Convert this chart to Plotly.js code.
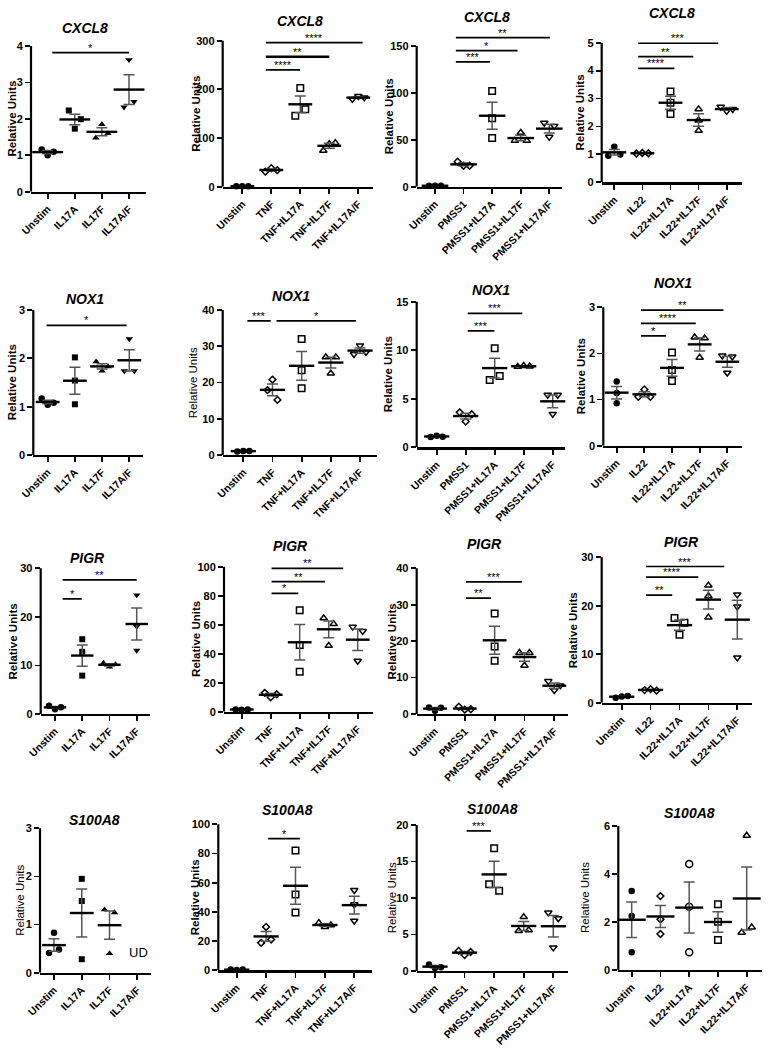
<!DOCTYPE html>
<html><head><meta charset="utf-8">
<script src="https://cdn.plot.ly/plotly-3.0.1.min.js"></script>
<style>html,body{margin:0;padding:0;background:#fff}#chart{width:772px;height:1050px}</style>
</head><body><div id="chart"></div>
<script>
// ---------- categories (tick labels) ----------
const catsIL17  = ['Unstim','IL17A','IL17F','IL17A/F'];
const catsTNF   = ['Unstim','TNF','TNF+IL17A','TNF+IL17F','TNF+IL17A/F'];
const catsPMSS1 = ['Unstim','PMSS1','PMSS1+IL17A','PMSS1+IL17F','PMSS1+IL17A/F'];
const catsIL22  = ['Unstim','IL22','IL22+IL17A','IL22+IL17F','IL22+IL17A/F'];

// ---------- replicate values (relative units), 3 per condition ----------
const cxcl8_IL17   = [[1.16,1.00,1.10],[2.23,1.73,1.99],[1.48,1.85,1.60],[2.32,3.62,2.47]];
const cxcl8_TNF    = [[0.9,1.0,0.9],[31,38,34],[146,203,159],[74,88,90],[180,186,183]];
const cxcl8_PMSS1  = [[1.0,1.1,0.9],[26.7,22.4,22.4],[102,73,52],[49,57.6,49],[68,53,64.7]];
const cxcl8_IL22   = [[0.95,1.27,1.0],[1.03,1.05,1.04],[3.25,2.85,2.45],[2.62,2.22,1.85],[2.70,2.55,2.62]];
const nox1_IL17    = [[1.17,1.04,1.08],[2.02,1.54,1.05],[1.93,1.74,1.83],[1.74,2.40,1.74]];
const nox1_TNF     = [[1.0,1.1,1.1],[20.8,17.9,15.2],[32,23.4,18.4],[27,22.5,27],[27.8,30.2,28.4]];
const nox1_PMSS1   = [[1.05,1.2,1.1],[3.6,2.65,3.4],[6.93,10.2,7.35],[8.3,8.4,8.35],[5.39,3.43,5.39]];
const nox1_IL22    = [[1.39,0.92,1.14],[1.06,1.22,1.06],[2.02,1.64,1.40],[2.35,1.91,2.33],[1.95,1.58,1.93]];
const pigr_IL17    = [[1.7,1.0,1.4],[15.4,12.8,7.9],[10.5,9.7,10.2],[24.5,18.0,13.1]];
const pigr_TNF     = [[1.6,1.3,1.6],[13,10,12],[70,46,27.6],[64.5,45.5,60.5],[58.5,35,55.5]];
const pigr_PMSS1   = [[1.8,0.9,1.7],[2.0,1.2,1.3],[27.6,18.5,14.6],[16.8,13.3,16.8],[9.0,6.5,7.8]];
const pigr_IL22    = [[1.0,1.3,1.4],[2.6,2.8,2.5],[17.5,14.0,16.5],[24.2,22.0,17.6],[22.3,19.8,9.3]];
const s100a8_IL17  = [[0.41,0.83,0.48],[1.95,1.49,0.28],[1.31,0.40,1.25],[]];   // IL17A/F undetected
const s100a8_TNF   = [[0.6,0.2,0.5],[18.8,29.7,21.1],[82.1,52,39.6],[32.5,29.7,30.9],[54.9,45.1,33.9]];
const s100a8_PMSS1 = [[0.9,0.4,0.5],[2.75,2.2,2.6],[11.9,16.8,11.0],[5.5,7.4,5.6],[8.0,3.2,7.2]];
const s100a8_IL22  = [[3.29,2.25,0.74],[3.08,2.11,1.5],[4.42,2.64,0.74],[2.74,2.01,1.25],[1.56,5.6,1.78]];

// ---------- significance labels ----------
const sig_cxcl8_IL17 = ['*'];
const sig_cxcl8_TNF = ['****','**','****'];
const sig_cxcl8_PMSS1 = ['***','*','**'];
const sig_cxcl8_IL22 = ['****','**','***'];
const sig_nox1_IL17 = ['*'];
const sig_nox1_TNF = ['***','*'];
const sig_nox1_PMSS1 = ['***','***'];
const sig_nox1_IL22 = ['*','****','**'];
const sig_pigr_IL17 = ['*','**'];
const sig_pigr_TNF = ['*','**','**'];
const sig_pigr_PMSS1 = ['**','***'];
const sig_pigr_IL22 = ['**','****','***'];
const sig_s100a8_TNF = ['*'];
const sig_s100a8_PMSS1 = ['***'];

// ---------- marker symbols ----------
const symIL17 = ['circle','square','triangle-up','triangle-down'];
const symStim = ['circle','diamond-open','square-open','triangle-up-open','triangle-down-open'];
const symS100IL22 = ['circle','diamond-open','circle-open','square-open','triangle-up-open'];

// ---------- layout of panels (pixel geometry: left,right,firstTick,lastTick,y0,yTopTick,topVal,dtick) ----------
const panels = [
 {cats:catsIL17, vals:cxcl8_IL17, sym:symIL17, title:'CXCL8', sig:sig_cxcl8_IL17, g:[31,146,47.7,129,191.7,46,4,1], tx:85, ty:28, yx:11.7, yb:true, mw:22, br:[[0.17,3.0,3.82]]},
 {cats:catsTNF, vals:cxcl8_TNF, sym:symStim, title:'CXCL8', sig:sig_cxcl8_TNF, g:[222.7,373,242.3,358.3,186.7,40.7,300,100], tx:300, ty:20.7, yx:196, yb:true, mw:17, br:[[0.81,1.99,240],[0.81,3.0,267,2.6],[0.81,4.15,296]]},
 {cats:catsPMSS1, vals:cxcl8_PMSS1, sym:symStim, title:'CXCL8', sig:sig_cxcl8_PMSS1, g:[416.7,561.7,435,549.3,186.7,46,150,50], tx:486.7, ty:16.7, yx:389, yb:true, mw:19, br:[[0.73,1.92,133],[0.73,2.89,145],[0.73,4.02,159]]},
 {cats:catsIL22, vals:cxcl8_IL22, sym:symStim, title:'CXCL8', sig:sig_cxcl8_IL22, g:[601.7,742.3,614.3,726.7,182.3,42.7,5,1], tx:671.7, ty:13.3, yx:580, yb:true, mw:17, br:[[0.85,2.14,4.08],[0.85,2.81,4.5],[0.85,3.70,4.98]]},
 {cats:catsIL17, vals:nox1_IL17, sym:symIL17, title:'NOX1', sig:sig_nox1_IL17, g:[33.3,143.3,47.7,129.3,455,310,3,1], tx:85, ty:299.3, yx:11.7, yb:true, mw:17, br:[[-0.04,2.9,2.68]]},
 {cats:catsTNF, vals:nox1_TNF, sym:symStim, title:'NOX1', sig:sig_nox1_TNF, g:[222.7,376.7,243.3,360,455,310,40,10], tx:290.7, ty:296, yx:192.7, yb:false, mw:18, br:[[0.14,0.94,37],[1.14,3.86,37]]},
 {cats:catsPMSS1, vals:nox1_PMSS1, sym:symStim, title:'NOX1', sig:sig_nox1_PMSS1, g:[416.7,565,436.7,552.7,447.3,301.7,15,5], tx:491, ty:290, yx:387.7, yb:true, mw:18, br:[[1.07,1.99,12.0],[1.07,2.95,13.8]]},
 {cats:catsIL22, vals:nox1_IL22, sym:symStim, title:'NOX1', sig:sig_nox1_IL22, g:[603.3,742.3,616.7,727.3,445.7,307.3,3,1], tx:672.7, ty:283.3, yx:581.7, yb:true, mw:17, br:[[0.88,1.78,2.38],[0.88,2.86,2.65],[0.88,3.86,2.94]]},
 {cats:catsIL17, vals:pigr_IL17, sym:symIL17, title:'PIGR', sig:sig_pigr_IL17, g:[40.7,150,55,136.7,714,568.3,30,10], tx:87.3, ty:558.3, yx:13.3, yb:true, mw:16, br:[[0.28,0.98,23.7],[0.28,3.0,27.6]]},
 {cats:catsTNF, vals:pigr_TNF, sym:symStim, title:'PIGR', sig:sig_pigr_TNF, g:[224,373,241.7,357.7,711.7,566.7,100,20], tx:290, ty:545.7, yx:196.7, yb:true, mw:17, br:[[1.03,1.95,81.6],[1.03,2.87,89.7],[1.03,3.5,98.9]]},
 {cats:catsPMSS1, vals:pigr_PMSS1, sym:symStim, title:'PIGR', sig:sig_pigr_PMSS1, g:[416.7,568,435,554.3,714,568.3,40,10], tx:484.3, ty:544, yx:392.3, yb:true, mw:17, br:[[1.04,1.88,31.8],[1.04,2.91,36.3]]},
 {cats:catsIL22, vals:pigr_IL22, sym:symStim, title:'PIGR', sig:sig_pigr_IL22, g:[601.7,751.7,621.7,737.3,702.7,557.3,30,10], tx:681.7, ty:541.7, yx:573.3, yb:true, mw:18, br:[[0.84,1.75,22.2],[0.84,2.65,25.9],[0.84,3.55,28.1]]},
 {cats:catsIL17, vals:s100a8_IL17, sym:symIL17, title:'S100A8', sig:[], g:[40,150.7,54,137.3,972.7,828.3,3,1], tx:94, ty:820, yx:19.3, yb:false, mw:17, br:[], ud:3},
 {cats:catsTNF, vals:s100a8_TNF, sym:symStim, title:'S100A8', sig:sig_s100a8_TNF, g:[218.3,371.7,236.7,354.3,970.3,824.3,100,20], tx:287.3, ty:810, yx:195, yb:true, mw:18, br:[[1.07,2.15,90.2]]},
 {cats:catsPMSS1, vals:s100a8_PMSS1, sym:symStim, title:'S100A8', sig:sig_s100a8_PMSS1, g:[416.7,568,435,553.3,971,825,20,5], tx:492.3, ty:809.3, yx:392.3, yb:false, mw:18, br:[[1.07,1.89,19.2]]},
 {cats:catsIL22, vals:s100a8_IL22, sym:symS100IL22, title:'S100A8', sig:[], g:[618.3,761.7,631.7,746.7,970,826,6,2], tx:689, ty:813.3, yx:585, yb:false, mw:20, br:[]}
];

const W = 772, H = 1050;
const FONT = 'Liberation Sans, Arial, Helvetica, sans-serif';

function pxOffsets(vals, ppu){
  const off = vals.map(()=>0);
  if(!vals.length) return off;
  const px = vals.map(v=>v*ppu);
  const idx = vals.map((v,i)=>i).sort((a,b)=>px[a]-px[b]);
  const clusters = []; let cur = [idx[0]];
  for(let j=1;j<idx.length;j++){
    if(px[idx[j]]-px[idx[j-1]] < 10) cur.push(idx[j]); else { clusters.push(cur); cur=[idx[j]]; }
  }
  clusters.push(cur);
  clusters.forEach(c=>{
    c.sort((a,b)=>a-b);
    const k=c.length, step = k===2 ? 10 : 6;
    c.forEach((i,m)=>{ off[i] = (m-(k-1)/2)*step; });
  });
  return off;
}
const mean = a => a.reduce((s,v)=>s+v,0)/a.length;
const sem = a => { const m=mean(a); return Math.sqrt(a.reduce((s,v)=>s+(v-m)*(v-m),0)/(a.length-1))/Math.sqrt(a.length); };

const traces = [], shapes = [], annotations = [];
const layout = {width:W, height:H, margin:{l:0,r:0,t:0,b:0}, paper_bgcolor:'#fff', plot_bgcolor:'rgba(0,0,0,0)', showlegend:false, font:{family:FONT, color:'#000'}};

panels.forEach((p,k)=>{
  const id = k===0 ? '' : String(k+1);
  const xa = 'x'+id, ya = 'y'+id;
  const [l,r,t0,tN,y0,yTop,top,dt] = p.g;
  const n = p.cats.length;
  const s = (tN-t0)/(n-1);
  const ppu = (y0-yTop)/top;
  const brMax = p.br.length ? Math.max(...p.br.map(b=>b[2])) : 0;
  const rmax = Math.max(top, brMax)*1.04;
  const tv = []; for(let v=0; v<=top+1e-9; v+=dt) tv.push(+v.toFixed(6));

  layout['xaxis'+id] = {
    domain:[l/W, r/W], range:[(l-t0)/s, (r-t0)/s], anchor:ya,
    tickmode:'array', tickvals:p.cats.map((c,i)=>i), ticktext:p.cats, tickangle:-45,
    ticks:'outside', ticklen:5, tickwidth:1.8, tickcolor:'#000',
    showline:true, linewidth:2.2, linecolor:'#000', showgrid:false, zeroline:false,
    tickfont:{family:FONT, size:10.5, weight:'bold', color:'#000'}, fixedrange:true
  };
  layout['yaxis'+id] = {
    domain:[1-y0/H, 1-(y0-rmax*ppu)/H], range:[0, rmax], anchor:xa,
    tickmode:'array', tickvals:tv, ticktext:tv.map(String),
    ticks:'outside', ticklen:5, tickwidth:1.8, tickcolor:'#000',
    showline:false, showgrid:false, zeroline:false,
    tickfont:{family:FONT, size:11, weight:'bold', color:'#000'}, fixedrange:true
  };
  // y-axis line up to top tick
  shapes.push({type:'line', xref:xa+' domain', x0:0, x1:0, yref:ya, y0:0, y1:top, line:{color:'#000', width:2.2}});

  // replicate points
  p.vals.forEach((vals,c)=>{
    if(!vals.length) return;
    const off = pxOffsets(vals, ppu);
    const sym = p.sym[c];
    const open = sym.indexOf('open')>=0;
    let size = 6.5;
    if(sym.startsWith('square')) size = open ? 6.5 : 6;
    if(sym.startsWith('diamond')) size = 5.2;
    if(sym.startsWith('circle') && open) size = 7;
    traces.push({
      type:'scatter', mode:'markers', xaxis:xa, yaxis:ya, cliponaxis:false,
      x: vals.map((v,i)=>c+off[i]/s), y: vals,
      marker:{symbol:sym, size:size, color:'#000', line:{color:'#000', width: open?1.5:0}},
      hoverinfo:'skip'
    });
  });
  // mean +/- SEM
  const mx=[], my=[], me=[];
  p.vals.forEach((vals,c)=>{ if(vals.length){ mx.push(c); my.push(mean(vals)); me.push(sem(vals)); } });
  traces.push({
    type:'scatter', mode:'markers', xaxis:xa, yaxis:ya, cliponaxis:false,
    x:mx, y:my,
    error_y:{type:'data', array:me, visible:true, color:'#555', thickness:1.5, width:5.5},
    marker:{symbol:'line-ew', size:p.mw, color:'#000', line:{color:'#000', width:2.4}},
    hoverinfo:'skip'
  });
  // significance brackets
  p.br.forEach((b,j)=>{
    shapes.push({type:'line', xref:xa, yref:ya, x0:b[0], x1:b[1], y0:b[2], y1:b[2], line:{color:'#000', width:b[3]||1.7}});
    annotations.push({xref:xa, yref:ya, x:(b[0]+b[1])/2, y:b[2], text:p.sig[j], showarrow:false,
      xanchor:'center', yanchor:'bottom', yshift:-3, font:{family:FONT, size:11, color:'#000'}});
  });
  // panel title
  annotations.push({xref:'paper', yref:'paper', x:p.tx/W, y:1-p.ty/H, text:'<b><i>'+p.title+'</i></b>', showarrow:false,
    xanchor:'center', yanchor:'middle', font:{family:FONT, size:14, color:'#000'}});
  // y title
  annotations.push({xref:'paper', yref:'paper', x:p.yx/W, y:1-((y0+yTop)/2)/H, text:p.yb?'<b>Relative Units</b>':'Relative Units',
    textangle:-90, showarrow:false, xanchor:'center', yanchor:'middle', font:{family:FONT, size:11.5, color:'#000'}});
  if(p.ud!==undefined){
    annotations.push({xref:xa, yref:ya, x:p.ud+0.04, y:0.43, text:'UD', showarrow:false, xanchor:'center', yanchor:'middle',
      font:{family:FONT, size:13, color:'#000'}});
  }
});

layout.shapes = shapes;
layout.annotations = annotations;
Plotly.newPlot('chart', traces, layout, {displayModeBar:false, staticPlot:true});
</script>
</body></html>
